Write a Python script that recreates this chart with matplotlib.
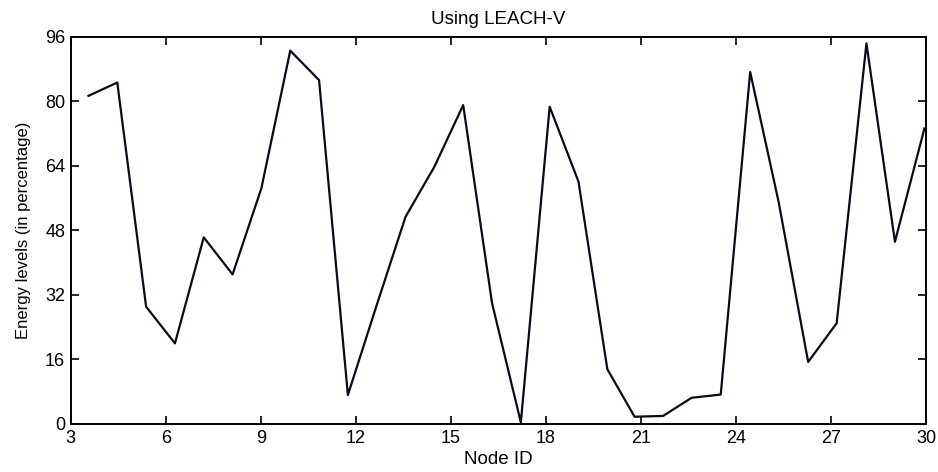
import numpy as np
import matplotlib
matplotlib.use('Agg')
import matplotlib.pyplot as plt

plt.rcParams['font.family'] = ['Liberation Sans', 'DejaVu Sans']

# node positions and residual energy (percent)
node_x = [3.56, 4.47, 5.38, 6.29, 7.20, 8.11, 9.02, 9.93, 10.84, 11.75,
          12.66, 13.57, 14.48, 15.39, 16.30, 17.21, 18.12, 19.03, 19.94, 20.80,
          21.70, 22.60, 23.52, 24.45, 25.35, 26.28, 27.18, 28.12, 29.02, 29.95]
energy = [81.4, 84.7, 29.1, 20.0, 46.3, 37.1, 58.5, 92.6, 85.3, 7.2,
          29.5, 51.4, 63.8, 79.1, 30.0, 0.4, 78.7, 60.1, 13.6, 1.8,
          2.0, 6.5, 7.3, 87.3, 55.0, 15.4, 25.0, 94.4, 45.2, 73.3]

xticks = [3, 6, 9, 12, 15, 18, 21, 24, 27, 30]
yticks = [0, 16, 32, 48, 64, 80, 96]

fig = plt.figure(figsize=(9.38, 4.72), dpi=100)
ax = fig.add_axes([0.0754, 0.1017, 0.9118, 0.82])

ax.plot(node_x, energy, color='#0a0a1a', lw=1.6)

ax.set_xlim(3, 30)
ax.set_ylim(0, 96)
ax.set_xticks(xticks)
ax.set_yticks(yticks)
ax.tick_params(direction='in', length=6, width=1.2, top=True, right=True,
               labelsize=13, pad=4)
for s in ax.spines.values():
    s.set_linewidth(1.4)

ax.set_title('Using LEACH-V', fontsize=13.5, pad=9)
ax.set_xlabel('Node ID', fontsize=13.5, labelpad=3)
ax.set_ylabel('Energy levels (in percentage)', fontsize=12, labelpad=10)

fig.savefig('out.png', dpi=100)
